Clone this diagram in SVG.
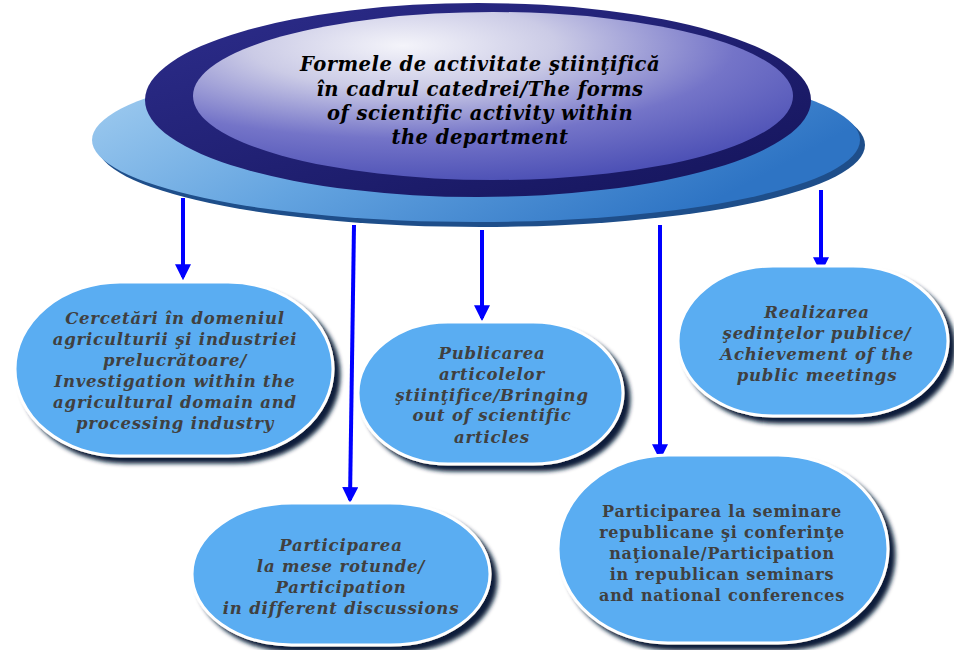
<svg xmlns="http://www.w3.org/2000/svg" width="954" height="650" viewBox="0 0 954 650">
<style>
.node rect{fill:#5AADF2;stroke:#FFFFFF;stroke-width:3;filter:url(#sh)}
.lbl{font-family:"DejaVu Serif","Liberation Serif",serif;font-weight:bold;font-style:italic;font-size:16.5px;fill:#404040;text-anchor:middle;letter-spacing:0.8px}
.lbl2{font-family:"DejaVu Serif","Liberation Serif",serif;font-weight:bold;font-size:16px;fill:#404040;text-anchor:middle;letter-spacing:0.8px}
.ttl{font-family:"DejaVu Serif","Liberation Serif",serif;font-weight:bold;font-style:italic;font-size:19.5px;fill:#000;text-anchor:middle;letter-spacing:0.5px}
.conn line{stroke:#0000FF;stroke-width:4;marker-end:url(#ah)}
</style>
<defs>
<filter id="sh" x="-10%" y="-10%" width="125%" height="130%">
<feGaussianBlur in="SourceAlpha" stdDeviation="2"/>
<feOffset dx="6" dy="6" result="o"/>
<feFlood flood-color="#0B1F3A"/>
<feComposite in2="o" operator="in"/>
<feMerge><feMergeNode/><feMergeNode in="SourceGraphic"/></feMerge>
</filter>
<marker id="ah" viewBox="0 0 10 10" refX="8" refY="5" markerWidth="4" markerHeight="4" orient="auto" markerUnits="strokeWidth">
<path d="M0,0 L10,5 L0,10 z" fill="#0000FF"/>
</marker>
<linearGradient id="baseG" x1="0" y1="0" x2="1" y2="0.4">
<stop offset="0" stop-color="#A9D2F2"/>
<stop offset="0.5" stop-color="#64A4E0"/>
<stop offset="1" stop-color="#2E74C4"/>
</linearGradient>
<linearGradient id="rimG" x1="0" y1="0" x2="1" y2="1">
<stop offset="0" stop-color="#2D2D8C"/>
<stop offset="1" stop-color="#14145A"/>
</linearGradient>
<radialGradient id="faceG" cx="0.35" cy="0.2" r="0.85">
<stop offset="0" stop-color="#F4F4FA"/>
<stop offset="0.3" stop-color="#CBCBE6"/>
<stop offset="0.65" stop-color="#7474C8"/>
<stop offset="1" stop-color="#4A4EB4"/>
</radialGradient>
</defs>
<rect width="954" height="650" fill="#FFFFFF"/>
<g id="conns" class="conn">
<line x1="183" y1="198" x2="183" y2="277"/>
<line x1="354" y1="225" x2="350" y2="500"/>
<line x1="482" y1="230" x2="482" y2="318"/>
<line x1="660" y1="225" x2="660" y2="457"/>
<line x1="821" y1="190" x2="821" y2="270"/>
</g>
<g id="center">
<ellipse cx="481" cy="145" rx="384" ry="82" fill="#1E4E8A"/>
<ellipse cx="476" cy="140" rx="384" ry="82" fill="url(#baseG)"/>
<ellipse cx="478" cy="100" rx="333" ry="97" fill="url(#rimG)"/>
<ellipse cx="493" cy="96" rx="300" ry="84" fill="url(#faceG)"/>
<text class="ttl" x="480" y="71">Formele de activitate ştiinţifică</text>
<text class="ttl" x="480" y="96">în cadrul catedrei/The forms</text>
<text class="ttl" x="480" y="120">of scientific activity within</text>
<text class="ttl" x="480" y="144">the department</text>
</g>
<g id="n1" class="node">
<rect x="15" y="282" width="318" height="174" rx="105" ry="87"/>
<text class="lbl" x="175" y="324">Cercetări în domeniul</text>
<text class="lbl" x="175" y="345">agriculturii şi industriei</text>
<text class="lbl" x="175" y="366">prelucrătoare/</text>
<text class="lbl" x="175" y="387">Investigation within the</text>
<text class="lbl" x="175" y="408">agricultural domain and</text>
<text class="lbl" x="175" y="429">processing industry</text>
</g>
<g id="n2" class="node">
<rect x="358" y="322" width="265" height="142" rx="90" ry="71"/>
<text class="lbl" x="492" y="359">Publicarea</text>
<text class="lbl" x="492" y="380">articolelor</text>
<text class="lbl" x="492" y="401">ştiinţifice/Bringing</text>
<text class="lbl" x="492" y="421">out of scientific</text>
<text class="lbl" x="492" y="443">articles</text>
</g>
<g id="n3" class="node">
<rect x="678" y="266" width="270" height="150" rx="95" ry="75"/>
<text class="lbl" x="817" y="318">Realizarea</text>
<text class="lbl" x="817" y="339">şedinţelor publice/</text>
<text class="lbl" x="817" y="360">Achievement of the</text>
<text class="lbl" x="817" y="381">public meetings</text>
</g>
<g id="n4" class="node">
<rect x="192" y="503" width="298" height="142" rx="100" ry="71"/>
<text class="lbl" x="341" y="551">Participarea</text>
<text class="lbl" x="341" y="572">la mese rotunde/</text>
<text class="lbl" x="341" y="593">Participation</text>
<text class="lbl" x="341" y="614">in different discussions</text>
</g>
<g id="n5" class="node">
<rect x="558" y="455" width="330" height="188" rx="110" ry="94"/>
<text class="lbl2" x="722" y="517">Participarea la seminare</text>
<text class="lbl2" x="722" y="538">republicane şi conferinţe</text>
<text class="lbl2" x="722" y="559">naţionale/Participation</text>
<text class="lbl2" x="722" y="580">in republican seminars</text>
<text class="lbl2" x="722" y="601">and national conferences</text>
</g>
</svg>
